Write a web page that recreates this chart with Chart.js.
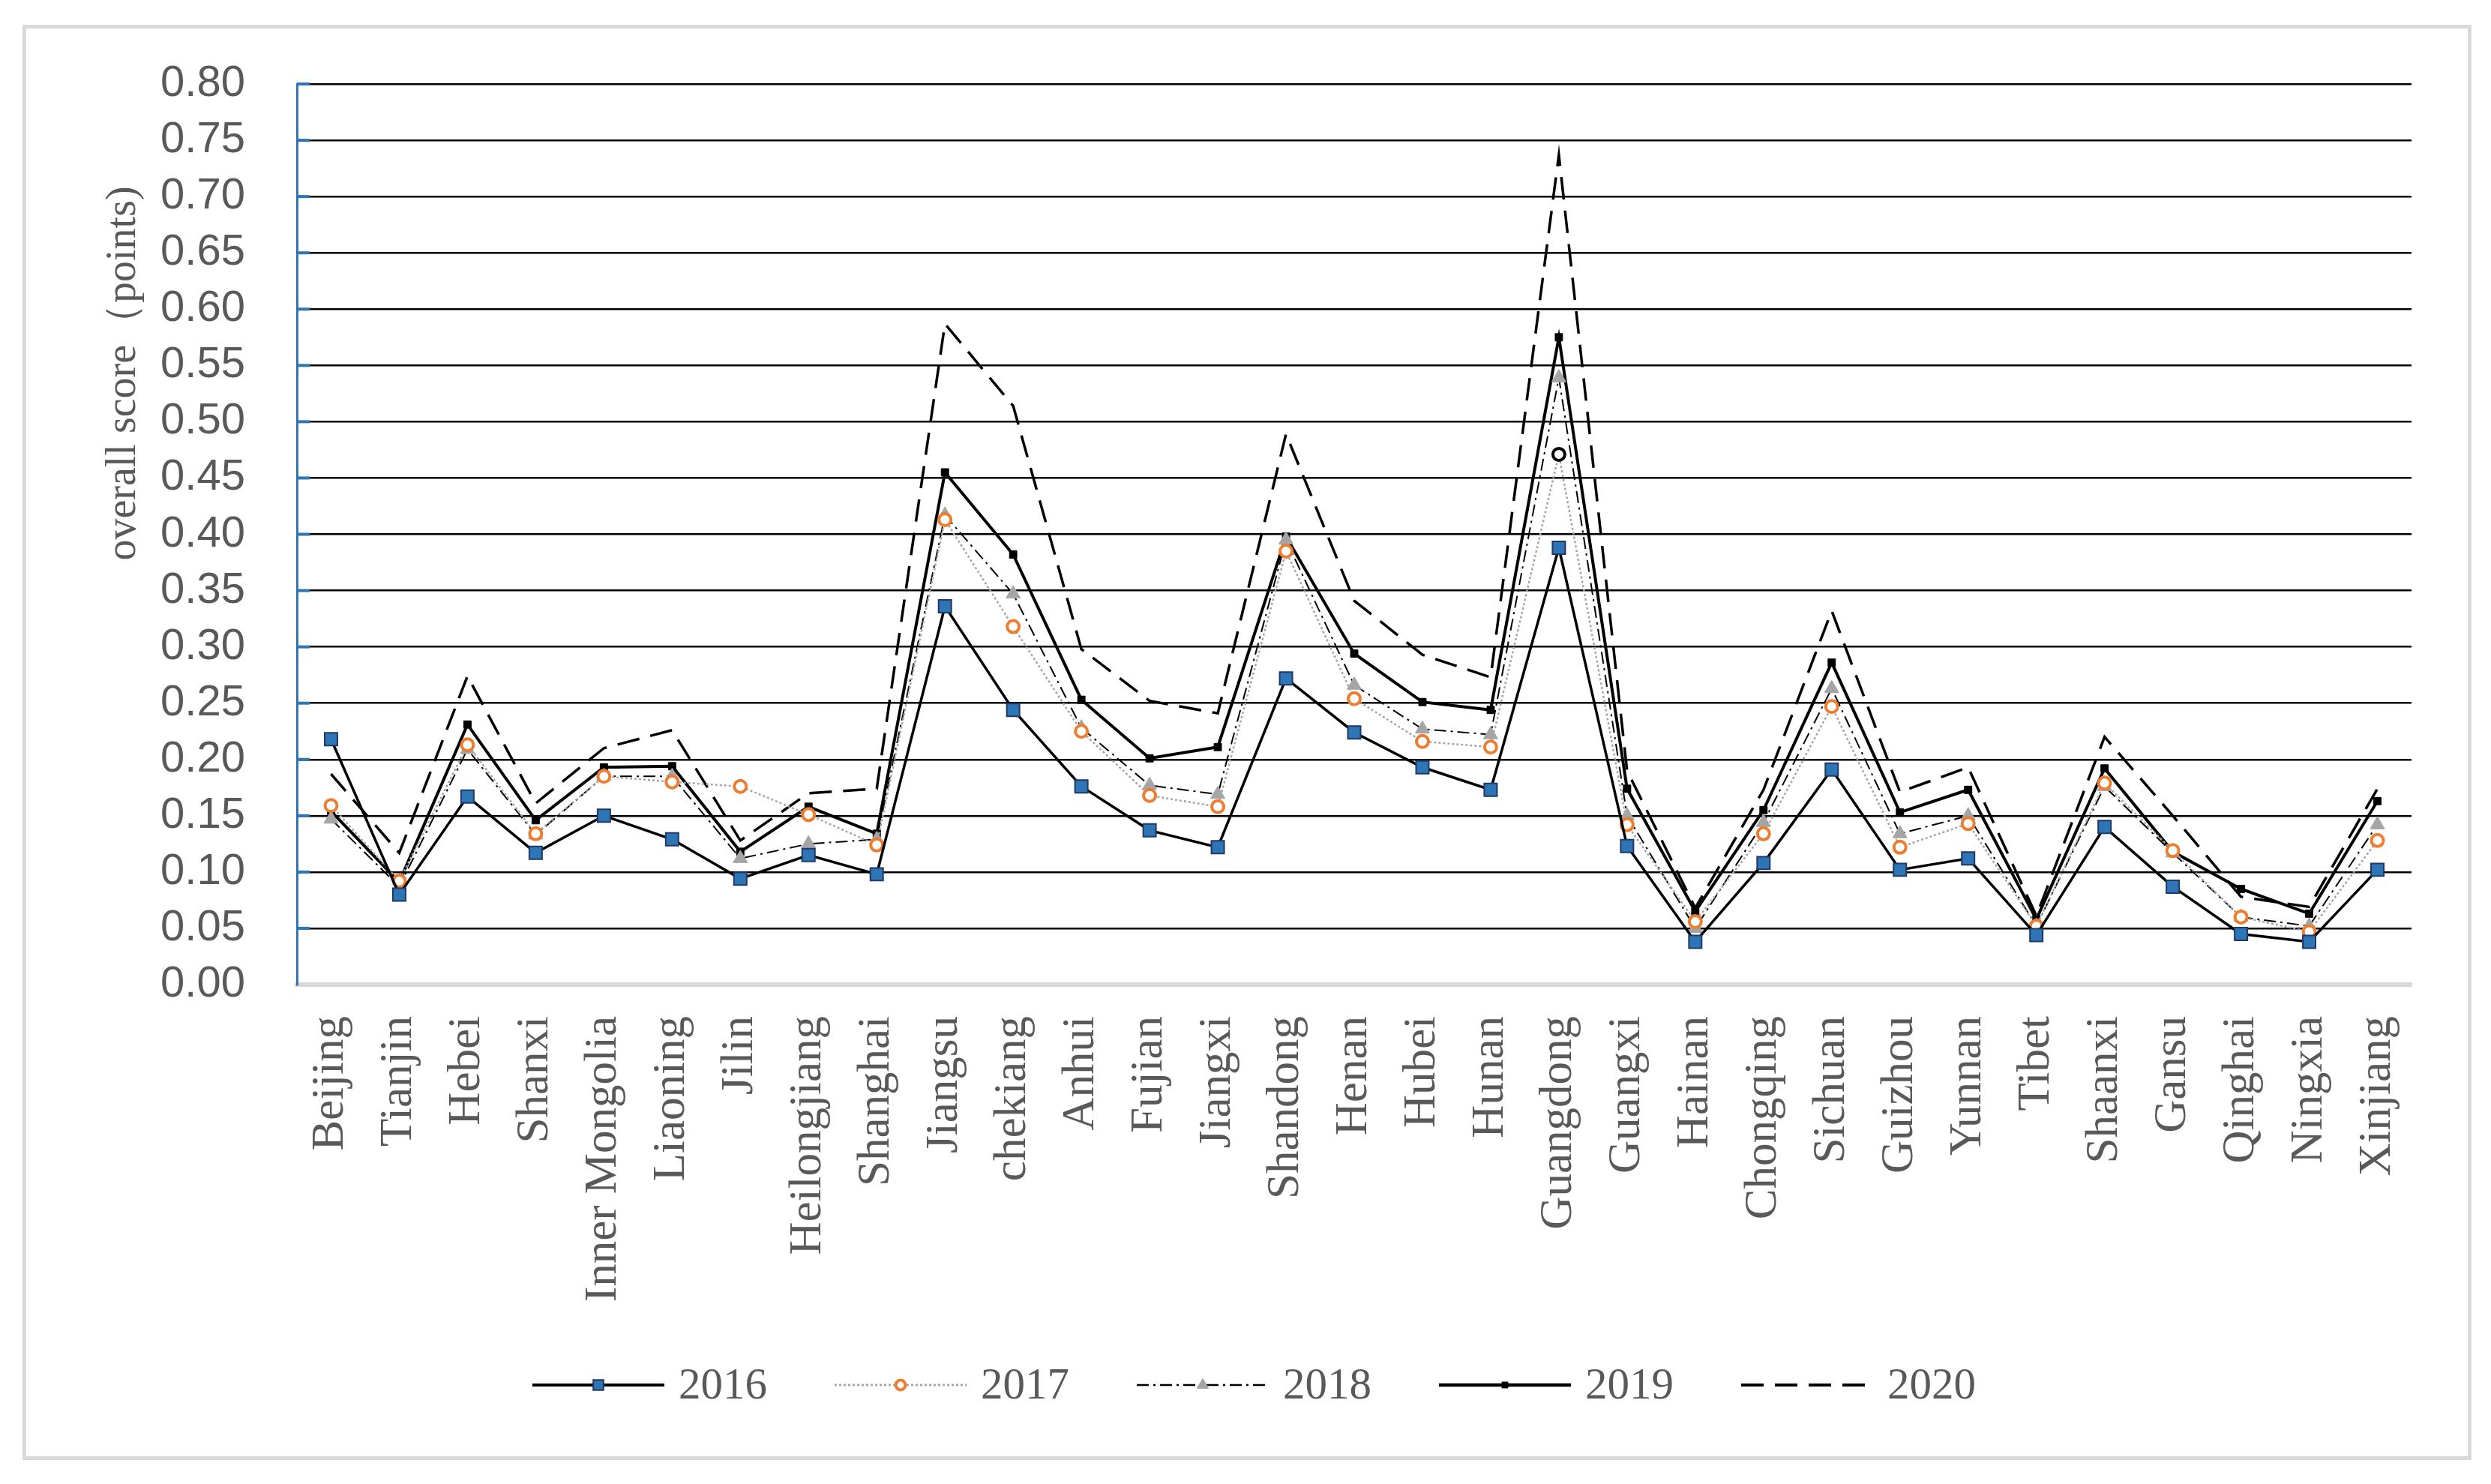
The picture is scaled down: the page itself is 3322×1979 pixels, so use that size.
<!DOCTYPE html>
<html lang="en">
<head>
  <meta charset="UTF-8" />
  <title>Overall score by province</title>
  <script src="https://cdn.jsdelivr.net/npm/chart.js"></script>
  <style>
    html, body { margin: 0; padding: 0; background: #fff; }
    #frame {
      position: absolute; left: 30px; top: 33px;
      width: 3256px; height: 1904px;
      border: 5px solid #d9d9d9;
    }
    #chart { position: absolute; left: 0; top: 0; }
  </style>
</head>
<body>
  <div id="frame"></div>
  <canvas id="chart" width="3322" height="1979"></canvas>

  <script>
    const provinces = ['Beijing', 'Tianjin', 'Hebei', 'Shanxi', 'Inner Mongolia', 'Liaoning', 'Jilin',
      'Heilongjiang', 'Shanghai', 'Jiangsu', 'chekiang', 'Anhui', 'Fujian', 'Jiangxi', 'Shandong',
      'Henan', 'Hubei', 'Hunan', 'Guangdong', 'Guangxi', 'Hainan', 'Chongqing', 'Sichuan', 'Guizhou',
      'Yunnan', 'Tibet', 'Shaanxi', 'Gansu', 'Qinghai', 'Ningxia', 'Xinjiang'];

    const years = ['2016', '2017', '2018', '2019', '2020'];

    const score2016 = [0.218, 0.080, 0.167, 0.117, 0.150, 0.129, 0.094, 0.115, 0.098, 0.336, 0.244,
      0.176, 0.137, 0.122, 0.272, 0.224, 0.193, 0.173, 0.388, 0.123, 0.038, 0.108, 0.191, 0.102,
      0.112, 0.044, 0.140, 0.087, 0.045, 0.038, 0.102];
    const score2017 = [0.159, 0.092, 0.213, 0.134, 0.185, 0.180, 0.176, 0.151, 0.124, 0.413, 0.318,
      0.225, 0.168, 0.158, 0.385, 0.254, 0.216, 0.211, 0.471, 0.142, 0.056, 0.134, 0.247, 0.122,
      0.143, 0.052, 0.179, 0.119, 0.060, 0.047, 0.128];
    const score2018 = [0.147, 0.087, 0.209, 0.133, 0.185, 0.185, 0.112, 0.125, 0.129, 0.417, 0.347,
      0.228, 0.177, 0.169, 0.395, 0.266, 0.227, 0.222, 0.539, 0.150, 0.050, 0.144, 0.263, 0.134,
      0.150, 0.052, 0.176, 0.117, 0.060, 0.052, 0.142];
    const score2019 = [0.154, 0.091, 0.231, 0.146, 0.193, 0.194, 0.118, 0.158, 0.134, 0.455, 0.382,
      0.253, 0.201, 0.211, 0.398, 0.294, 0.251, 0.244, 0.575, 0.174, 0.065, 0.155, 0.286, 0.153,
      0.173, 0.058, 0.192, 0.118, 0.085, 0.063, 0.163];
    const score2020 = [0.187, 0.117, 0.274, 0.161, 0.210, 0.226, 0.128, 0.170, 0.174, 0.587, 0.514,
      0.298, 0.252, 0.241, 0.489, 0.341, 0.293, 0.273, 0.737, 0.190, 0.068, 0.173, 0.332, 0.171,
      0.193, 0.061, 0.220, 0.150, 0.078, 0.069, 0.174];

    const yTitle = 'overall score（points)';
    const grey = '#595959';
    const serif = '"Liberation Serif", "Times New Roman", serif';
    const sans = '"Liberation Sans", Arial, sans-serif';

    // the 2017 marker on Guangdong is drawn in black in the original
    const border2017 = provinces.map(p => p === 'Guangdong' ? '#000' : '#ED7D31');

    // legend drawn under the axis labels, line sample + marker + year
    const bottomLegend = {
      id: 'bottomLegend',
      afterDraw(chart) {
        const ctx = chart.ctx;
        const y = 1847;
        let x = 710;
        chart.data.datasets.forEach(ds => {
          ctx.save();
          ctx.strokeStyle = ds.borderColor;
          ctx.lineWidth = ds.borderWidth + 0.5;
          ctx.setLineDash(ds.borderDash || []);
          ctx.beginPath();
          ctx.moveTo(x, y);
          ctx.lineTo(x + 176, y);
          ctx.stroke();
          ctx.setLineDash([]);
          if (ds.pointRadius > 0) {
            ctx.fillStyle = ds.pointBackgroundColor;
            ctx.strokeStyle = Array.isArray(ds.pointBorderColor) ? ds.pointBorderColor[0] : ds.pointBorderColor;
            ctx.lineWidth = ds.pointBorderWidth;
            Chart.helpers.drawPoint(ctx, {
              pointStyle: ds.pointStyle,
              radius: ds.pointRadius * 0.8,
              rotation: 0,
              borderWidth: ds.pointBorderWidth
            }, x + 88, y);
          }
          ctx.fillStyle = grey;
          ctx.font = '59px ' + serif;
          ctx.textAlign = 'left';
          ctx.textBaseline = 'middle';
          ctx.fillText(ds.label, x + 195, y + 2);
          ctx.restore();
          x += 403;
        });
      }
    };

    // y title sits above the middle of the axis, and the blue tick marks point inwards
    const yAxisExtras = {
      id: 'yAxisExtras',
      afterDraw(chart) {
        const ctx = chart.ctx;
        const yScale = chart.scales.y;
        ctx.save();
        ctx.strokeStyle = '#2E75B6';
        ctx.lineWidth = 4;
        yScale.ticks.forEach(t => {
          if (t.value === 0) return;
          const py = yScale.getPixelForValue(t.value);
          ctx.beginPath();
          ctx.moveTo(chart.chartArea.left, py);
          ctx.lineTo(chart.chartArea.left + 17, py);
          ctx.stroke();
        });
        ctx.restore();

        ctx.save();
        ctx.translate(165, 498);
        ctx.rotate(-Math.PI / 2);
        ctx.fillStyle = grey;
        ctx.font = '56px ' + serif;
        ctx.textAlign = 'center';
        ctx.textBaseline = 'middle';
        ctx.fillText(yTitle, 0, 0);
        ctx.restore();
      }
    };

    new Chart(document.getElementById('chart').getContext('2d'), {
      type: 'line',
      data: {
        labels: provinces,
        datasets: [
          {
            label: years[0],
            data: score2016,
            borderColor: '#000',
            borderWidth: 3.5,
            pointStyle: 'rect',
            pointRadius: 12,
            pointBackgroundColor: '#2E75B6',
            pointBorderColor: '#1F3864',
            pointBorderWidth: 2
          },
          {
            label: years[1],
            data: score2017,
            borderColor: '#A6A6A6',
            borderWidth: 2.5,
            borderDash: [3, 3],
            pointStyle: 'circle',
            pointRadius: 8,
            pointBackgroundColor: '#fff',
            pointBorderColor: border2017,
            pointBorderWidth: 4
          },
          {
            label: years[2],
            data: score2018,
            borderColor: '#000',
            borderWidth: 2,
            borderDash: [16, 6, 3, 6],
            pointStyle: 'triangle',
            pointRadius: 11,
            pointBackgroundColor: '#A5A5A5',
            pointBorderColor: '#A5A5A5',
            pointBorderWidth: 1
          },
          {
            label: years[3],
            data: score2019,
            borderColor: '#000',
            borderWidth: 4,
            pointStyle: 'rect',
            pointRadius: 7,
            pointBackgroundColor: '#000',
            pointBorderColor: '#000',
            pointBorderWidth: 1
          },
          {
            label: years[4],
            data: score2020,
            borderColor: '#000',
            borderWidth: 3.5,
            borderDash: [30, 15],
            pointRadius: 0,
            pointBackgroundColor: '#000',
            pointBorderColor: '#000',
            pointBorderWidth: 0
          }
        ]
      },
      options: {
        responsive: false,
        animation: false,
        devicePixelRatio: 1,
        elements: { line: { tension: 0, fill: false } },
        layout: { padding: { left: 60, top: 112, right: 106, bottom: 0 } },
        plugins: {
          legend: { display: false },
          tooltip: { enabled: false }
        },
        scales: {
          x: {
            offset: true,
            grid: { display: false, drawTicks: false },
            border: { display: true, color: '#d9d9d9', width: 6 },
            ticks: {
              autoSkip: false,
              minRotation: 90,
              maxRotation: 90,
              padding: 42,
              color: grey,
              font: { family: serif, size: 61 }
            },
            afterFit(scale) { scale.height = 666; }
          },
          y: {
            min: 0,
            max: 0.8,
            grid: { color: '#000', lineWidth: 2.5, drawTicks: false },
            border: { display: true, color: '#2E75B6', width: 3 },
            ticks: {
              stepSize: 0.05,
              padding: 69,
              color: grey,
              font: { family: sans, size: 58 },
              callback: v => v.toFixed(2)
            },
            afterFit(scale) { scale.width = 336; }
          }
        }
      },
      plugins: [bottomLegend, yAxisExtras]
    });
  </script>
</body>
</html>
